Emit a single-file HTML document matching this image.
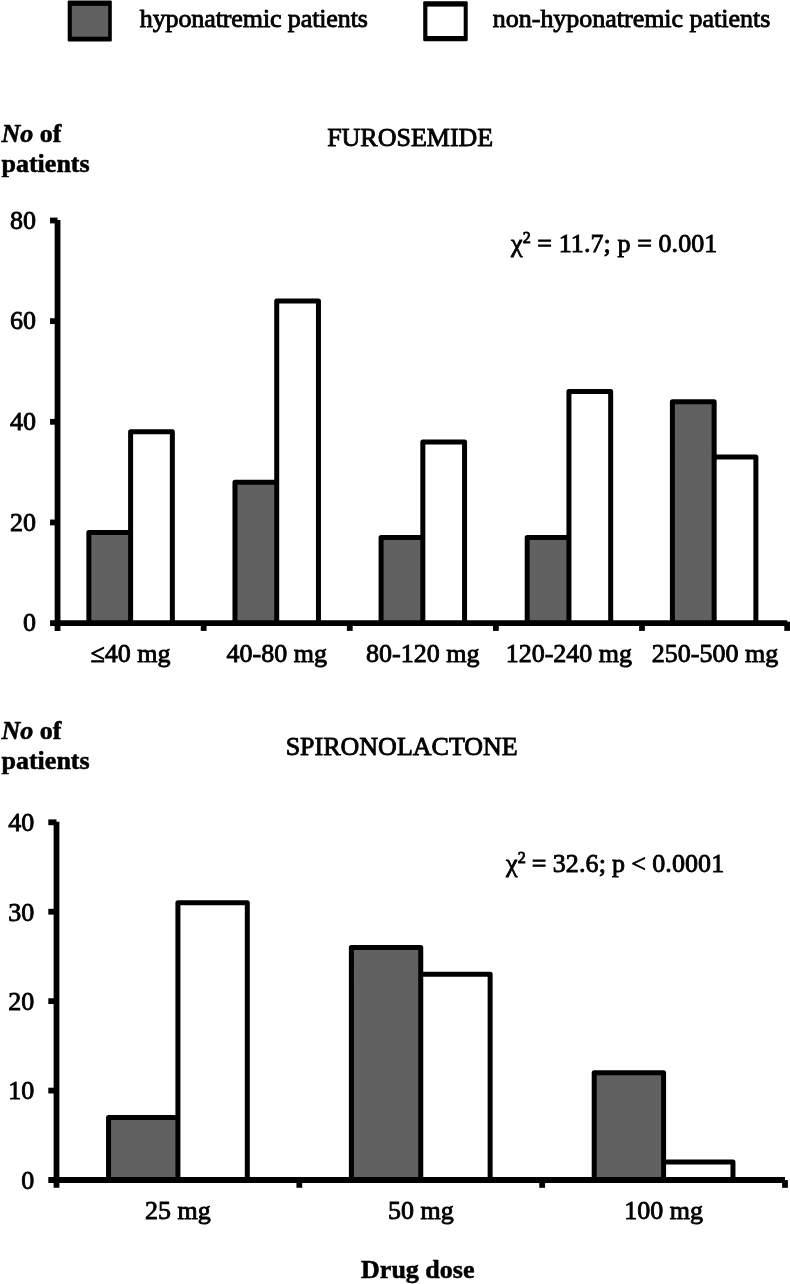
<!DOCTYPE html>
<html><head><meta charset="utf-8"><title>Chart</title>
<style>
html,body{margin:0;padding:0;background:#fff;}
svg{display:block;}
text{font-family:"Liberation Serif","Times New Roman",serif;font-size:26px;fill:#000;stroke:#000;stroke-width:0.85px;}
.b{font-weight:bold;stroke-width:0.55px;}
.bi{font-weight:bold;font-style:italic;stroke-width:0.55px;}
.bar{stroke:#000;stroke-width:5;stroke-linejoin:round;fill:none;}
.g{fill:#616161;}
.w{fill:#fff;}
.ax{stroke:#000;stroke-width:5.8;fill:none;}
.tk{stroke:#000;stroke-width:5.8;fill:none;}
</style></head><body>
<svg width="790" height="1284" viewBox="0 0 790 1284">
<rect width="790" height="1284" fill="#fff"/>

<rect x="67.7" y="0.4" width="44.1" height="41" rx="1.2" fill="#000"/><rect x="71.8" y="5.9" width="36.4" height="30.8" fill="#616161"/>
<rect x="423.2" y="1.2" width="44.5" height="40.1" rx="1.2" fill="#000"/><rect x="427.4" y="6.6" width="36.3" height="29.4" fill="#fff"/>
<text x="139.8" y="27.2" letter-spacing="-0.11">hyponatremic patients</text>
<text x="492.8" y="27.2" letter-spacing="-0.02">non-hyponatremic patients</text>
<rect class="g" x="88.86" y="532.51" width="41.75" height="90.59"/>
<path class="bar" d="M88.86 623.10V532.51H130.61M130.61 623.10V431.87H172.35V623.10"/>
<rect class="g" x="234.97" y="482.19" width="41.75" height="140.91"/>
<path class="bar" d="M234.97 623.10V482.19H276.72M276.72 623.10V301.02H318.46V623.10"/>
<rect class="g" x="381.08" y="537.55" width="41.75" height="85.55"/>
<path class="bar" d="M381.08 623.10V537.55H422.83M422.83 623.10V441.93H464.57V623.10"/>
<rect class="g" x="527.19" y="537.55" width="41.75" height="85.55"/>
<path class="bar" d="M527.19 623.10V537.55H568.94M568.94 623.10V391.61H610.68V623.10"/>
<rect class="g" x="672.40" y="401.67" width="41.75" height="221.43"/>
<path class="bar" d="M672.40 623.10V401.67H714.15V623.10M714.15 457.03H755.89V623.10"/>
<line class="ax" x1="57.55" y1="219.9" x2="57.55" y2="630.9"/>
<line class="ax" x1="50.05" y1="623.1" x2="787.2" y2="623.1"/>
<line class="tk" x1="50.05" y1="522.45" x2="57.55" y2="522.45"/>
<line class="tk" x1="50.05" y1="421.80" x2="57.55" y2="421.80"/>
<line class="tk" x1="50.05" y1="321.15" x2="57.55" y2="321.15"/>
<line class="tk" x1="50.05" y1="220.50" x2="57.55" y2="220.50"/>
<line class="tk" x1="203.66" y1="623.1" x2="203.66" y2="630.9"/>
<line class="tk" x1="349.77" y1="623.1" x2="349.77" y2="630.9"/>
<line class="tk" x1="495.88" y1="623.1" x2="495.88" y2="630.9"/>
<line class="tk" x1="641.99" y1="623.1" x2="641.99" y2="630.9"/>
<line class="tk" x1="787.20" y1="621.7" x2="787.20" y2="630.9"/>
<text x="36" y="631.2" text-anchor="end">0</text>
<text x="36" y="530.6" text-anchor="end">20</text>
<text x="36" y="429.9" text-anchor="end">40</text>
<text x="36" y="329.2" text-anchor="end">60</text>
<text x="36" y="228.6" text-anchor="end">80</text>
<text x="130.6" y="662.4" text-anchor="middle">≤40 mg</text>
<text x="276.7" y="662.4" text-anchor="middle">40-80 mg</text>
<text x="422.8" y="662.4" text-anchor="middle">80-120 mg</text>
<text x="568.9" y="662.4" text-anchor="middle">120-240 mg</text>
<text x="715.0" y="662.4" text-anchor="middle">250-500 mg</text>
<text x="1.5" y="141.5"><tspan class="bi">No</tspan><tspan class="b"> of</tspan></text>
<text x="1.5" y="171.5" class="b">patients</text>
<text x="410.2" y="146" text-anchor="middle">FUROSEMIDE</text>
<text x="511" y="251.7" letter-spacing="0.09" word-spacing="0">χ<tspan dy="-9" font-size="16">2</tspan><tspan dy="9"> = 11.7; p = 0.001</tspan></text>
<rect class="g" x="108.54" y="1117.40" width="69.38" height="62.60"/>
<path class="bar" d="M108.54 1180.00V1117.40H177.92M177.92 1180.00V902.78H247.30V1180.00"/>
<rect class="g" x="351.37" y="947.50" width="69.38" height="232.50"/>
<path class="bar" d="M351.37 1180.00V947.50H420.75V1180.00M420.75 974.32H490.13V1180.00"/>
<rect class="g" x="594.20" y="1072.69" width="69.38" height="107.31"/>
<path class="bar" d="M594.20 1180.00V1072.69H663.58V1180.00M663.58 1162.12H732.96V1180.00"/>
<line class="ax" x1="56.5" y1="821.6999999999999" x2="56.5" y2="1187.8"/>
<line class="ax" x1="48.3" y1="1180" x2="785.0" y2="1180"/>
<line class="tk" x1="48.3" y1="1090.58" x2="56.5" y2="1090.58"/>
<line class="tk" x1="48.3" y1="1001.15" x2="56.5" y2="1001.15"/>
<line class="tk" x1="48.3" y1="911.72" x2="56.5" y2="911.72"/>
<line class="tk" x1="48.3" y1="822.30" x2="56.5" y2="822.30"/>
<line class="tk" x1="299.33" y1="1180" x2="299.33" y2="1187.8"/>
<line class="tk" x1="542.17" y1="1180" x2="542.17" y2="1187.8"/>
<line class="tk" x1="785.00" y1="1180.1" x2="785.00" y2="1187.8"/>
<text x="34.3" y="1188.8" text-anchor="end">0</text>
<text x="34.3" y="1099.4" text-anchor="end">10</text>
<text x="34.3" y="1009.9" text-anchor="end">20</text>
<text x="34.3" y="920.5" text-anchor="end">30</text>
<text x="34.3" y="831.1" text-anchor="end">40</text>
<text x="177.9" y="1218.5" text-anchor="middle">25 mg</text>
<text x="420.8" y="1218.5" text-anchor="middle">50 mg</text>
<text x="663.6" y="1218.5" text-anchor="middle">100 mg</text>
<text x="1.5" y="739.2"><tspan class="bi">No</tspan><tspan class="b"> of</tspan></text>
<text x="1.5" y="769.2" class="b">patients</text>
<text x="401.7" y="755.3" text-anchor="middle">SPIRONOLACTONE</text>
<text x="506" y="872" letter-spacing="0.09" word-spacing="-0.45">χ<tspan dy="-9" font-size="16">2</tspan><tspan dy="9"> = 32.6; p &lt; 0.0001</tspan></text>
<text x="417.8" y="1277.8" text-anchor="middle" class="b">Drug dose</text>
</svg></body></html>
